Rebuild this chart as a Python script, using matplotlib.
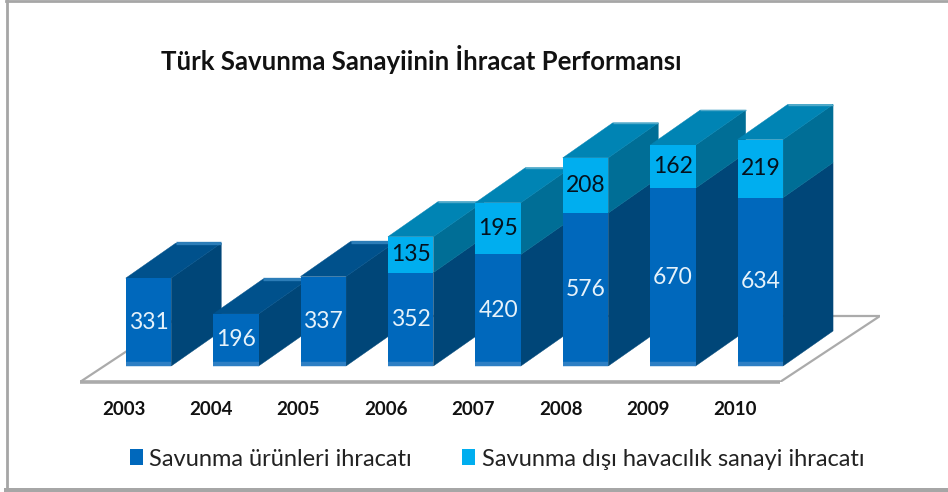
import matplotlib
matplotlib.use("Agg")
import matplotlib.pyplot as plt
import numpy as np
from matplotlib.patches import Polygon

years = ["2003", "2004", "2005", "2006", "2007", "2008", "2009", "2010"]
defense = [331, 196, 337, 352, 420, 576, 670, 634]
aviation = [0, 0, 0, 135, 195, 208, 162, 219]
name_defense = "Savunma ürünleri ihracatı"
name_aviation = "Savunma dışı havacılık sanayi ihracatı"
title = "Türk Savunma Sanayiinin İhracat Performansı"

plt.rcParams["font.family"] = ["Lato", "DejaVu Sans"]

W, H = 948, 492
PX_X = 87.4      # pixels per category
PX_Y = 0.2655    # pixels per value unit
X0 = 148.5       # pixel centre of first bar
Y0 = 366         # pixel of value 0
AX_L, AX_R, AX_T, AX_B = 80, 880, 40, 382
DX = 50 / PX_X
DY = 35 / PX_Y
BW = 45.5 / PX_X

C_FRONT, C_SIDE, C_TOP, C_EDGE = "#0068BC", "#004678", "#00518C", "#2C7DB8"
L_FRONT, L_SIDE, L_TOP, L_EDGE = "#00AEEF", "#006E96", "#0084B4", "#4FA9C9"

fig = plt.figure(figsize=(W / 100, H / 100), dpi=100, facecolor="white")
# chart frame: left and top thin, bottom heavy, nothing on the right
fig.add_artist(plt.Line2D([7 / W, 7 / W], [1 - 490 / H, 1 - 1 / H], transform=fig.transFigure,
                          color="#A6A6A6", linewidth=2.0, zorder=-1))
fig.add_artist(plt.Line2D([6 / W, 1], [1 - 1 / H, 1 - 1 / H], transform=fig.transFigure,
                          color="#A6A6A6", linewidth=2.0, zorder=-1))
fig.add_artist(plt.Line2D([6 / W, 1], [1 - 489.5 / H, 1 - 489.5 / H], transform=fig.transFigure,
                          color="#A6A6A6", linewidth=3.6, zorder=-1))

ax = fig.add_axes([AX_L / W, 1 - AX_B / H, (AX_R - AX_L) / W, (AX_B - AX_T) / H])
ax.set_xlim((AX_L - X0) / PX_X, (AX_R - X0) / PX_X)
ax.set_ylim((Y0 - AX_B) / PX_Y, (Y0 - AX_T) / PX_Y)
ax.patch.set_alpha(0)
for s in ax.spines.values():
    s.set_visible(False)

# floor
x_lo, y_lo = ax.get_xlim()[0], ax.get_ylim()[0]
x_hi = (780 - X0) / PX_X
fdx, fdy = 100 / PX_X, 66 / PX_Y
floor = [(x_lo, y_lo), (x_hi, y_lo), (x_hi + fdx, y_lo + fdy), (x_lo + fdx, y_lo + fdy)]
ax.add_patch(Polygon(floor, closed=True, facecolor="white", edgecolor="#ABABAB", linewidth=1.6, zorder=1))
ax.plot([x_lo, x_hi], [y_lo, y_lo], color="#ABABAB", linewidth=2.6, zorder=1, clip_on=False, solid_capstyle="butt")

x = np.arange(len(years))
d = np.array(defense)
a = np.array(aviation)

handles = []
for i in x:
    z = 3 + i
    l, r = i - BW / 2, i + BW / 2
    tot = d[i] + a[i]
    has_a = a[i] > 0
    side = lambda lo, hi, c: ax.add_patch(Polygon(
        [(r, lo), (r + DX, lo + DY), (r + DX, hi + DY), (r, hi)], closed=True,
        facecolor=c, edgecolor=c, linewidth=0.3, zorder=z, clip_on=False))
    side(0, d[i], C_SIDE)
    if has_a:
        side(d[i], tot, L_SIDE)
    ctop, cedge, elw = (L_TOP, L_EDGE, 1.0) if has_a else (C_TOP, C_EDGE, 2.4)
    ax.add_patch(Polygon([(l, tot), (r, tot), (r + DX, tot + DY), (l + DX, tot + DY)], closed=True,
                         facecolor=ctop, edgecolor=ctop, linewidth=0.3, zorder=z, clip_on=False))
    ax.plot([l + DX, r + DX], [tot + DY, tot + DY], color=cedge, linewidth=elw, zorder=z, clip_on=False,
            solid_capstyle="butt")
    b1 = ax.bar(i, d[i], width=BW, color=C_FRONT, zorder=z + 0.5)
    ax.plot([l, r], [7, 7], color="#2E7FC4", linewidth=3.2, zorder=z + 0.6, solid_capstyle="butt")
    ax.bar_label(b1, labels=[str(d[i])], label_type="center", color="#E6F2FA", fontsize=16.5, zorder=z + 1)
    if has_a:
        b2 = ax.bar(i, a[i], width=BW, bottom=d[i], color=L_FRONT, zorder=z + 0.5)
        ax.bar_label(b2, labels=[str(a[i])], label_type="center", color="#04121E", fontsize=16.5, zorder=z + 1)
        if not handles:
            handles = [b1, b2]

ax.set_yticks([])
ax.set_xticks(x - 25 / PX_X, years, fontsize=13.5, fontweight="bold", color="#111111")
ax.tick_params(axis="x", length=0, pad=14)

fig.text(421 / W, 1 - 60 / H, title, ha="center", va="center", fontsize=18.5, fontweight="bold", color="#111111")

leg = ax.legend(handles, [name_defense, name_aviation], loc="center", ncol=2, frameon=False,
                bbox_to_anchor=(497 / W, 1 - 459 / H), bbox_transform=fig.transFigure,
                fontsize=17, handlelength=0.55, handleheight=0.65, handletextpad=0.27, columnspacing=2.15,
                borderpad=0, labelcolor="#222222")

fig.savefig("out.png", dpi=100)
